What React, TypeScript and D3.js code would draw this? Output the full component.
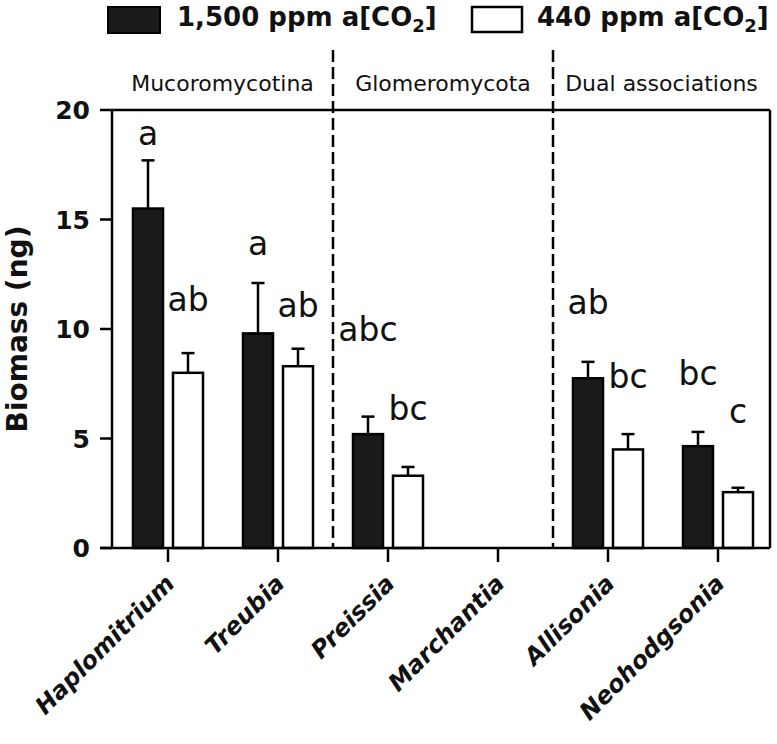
import React from "react";
import * as d3 from "d3";

const categories = ["Haplomitrium", "Treubia", "Preissia", "Marchantia", "Allisonia", "Neohodgsonia"];
const seriesKeys = ["high", "low"];
const seriesLabels = ["1,500 ppm a[CO", "440 ppm a[CO"];
const highValues = [15.5, 9.8, 5.2, null, 7.75, 4.65];
const highErrTop = [17.7, 12.1, 6.0, null, 8.5, 5.3];
const lowValues = [8.0, 8.3, 3.3, null, 4.5, 2.55];
const lowErrTop = [8.9, 9.1, 3.7, null, 5.2, 2.75];
const highLetters = ["a", "a", "abc", "", "ab", "bc"];
const lowLetters = ["ab", "ab", "bc", "", "bc", "c"];
const highLetterY = [18.4, 13.4, 9.45, null, 10.7, 7.45];
const lowLetterY = [10.8, 10.55, 5.85, null, 7.3, 5.7];
const groups = [
  { name: "Mucoromycotina", from: 0, to: 2 },
  { name: "Glomeromycota", from: 2, to: 4 },
  { name: "Dual associations", from: 4, to: 6 },
];
const yTicks = [0, 5, 10, 15, 20];

const W = 777;
const H = 744;
const left = 112;
const right = 770;
const top = 110;
const bottom = 548;
const FONT = "'DejaVu Sans', sans-serif";

export default function App() {
  const y = d3.scaleLinear().domain([0, 20]).range([bottom, top]);
  const x0 = d3.scaleBand<string>().domain(categories).range([113, 773]);
  const x1 = d3.scaleBand<string>().domain(seriesKeys).range([20, 90]).paddingInner(0.25);
  const step = x0.step();
  const bw = x1.bandwidth();

  const series = [
    { key: "high", values: highValues, err: highErrTop, letters: highLetters, ly: highLetterY, fill: "#1a1a1a" },
    { key: "low", values: lowValues, err: lowErrTop, letters: lowLetters, ly: lowLetterY, fill: "#ffffff" },
  ];

  const boundaryX = (i: number) => {
    if (i >= categories.length) return right;
    return (x0(categories[i]) as number);
  };

  return (
    <svg width={W} height={H} style={{ position: "absolute", left: 0, top: 0, background: "#fff" }} fontFamily={FONT}>
      <rect x={0} y={0} width={W} height={H} fill="#fff" />
      {/* legend */}
      <rect x={108} y={7} width={52} height={26} fill="#1a1a1a" stroke="#000" strokeWidth={2} />
      <text x={177} y={26} fontSize={26} fontWeight="bold" fill="#111">
        {seriesLabels[0]}
        <tspan fontSize={18} dy={6}>2</tspan>
        <tspan dy={-6}>]</tspan>
      </text>
      <rect x={472} y={7} width={50} height={25} fill="#fff" stroke="#000" strokeWidth={2.5} />
      <text x={537} y={26} fontSize={26} fontWeight="bold" fill="#111">
        {seriesLabels[1]}
        <tspan fontSize={18} dy={6}>2</tspan>
        <tspan dy={-6}>]</tspan>
      </text>

      {/* group labels & dividers */}
      {groups.map((g, i) => {
        const a = i === 0 ? left : boundaryX(g.from);
        const b = boundaryX(g.to);
        return (
          <text key={g.name} x={(a + b) / 2} y={91} fontSize={22} textAnchor="middle" fill="#111">
            {g.name}
          </text>
        );
      })}
      {groups.slice(1).map((g) => (
        <line key={"d" + g.name} x1={boundaryX(g.from)} x2={boundaryX(g.from)} y1={50} y2={bottom}
          stroke="#000" strokeWidth={2.5} strokeDasharray="12,5" />
      ))}

      {/* bars */}
      {categories.map((c, i) => (
        <g key={c} transform={`translate(${x0(c)},0)`}>
          {series.map((s) => {
            const v = s.values[i];
            if (v == null) return null;
            const bx = x1(s.key) as number;
            const cx = bx + bw / 2;
            const e = s.err[i] as number;
            return (
              <g key={s.key}>
                <line x1={cx} x2={cx} y1={y(v)} y2={y(e)} stroke="#000" strokeWidth={2.5} />
                <line x1={cx - 6.5} x2={cx + 6.5} y1={y(e)} y2={y(e)} stroke="#000" strokeWidth={2.5} />
                <rect x={bx} y={y(v)} width={bw} height={y(0) - y(v)} fill={s.fill} stroke="#000" strokeWidth={2.5} />
                <text x={cx} y={y(s.ly[i] as number)} fontSize={33} textAnchor="middle" fill="#111">
                  {s.letters[i]}
                </text>
              </g>
            );
          })}
        </g>
      ))}

      {/* frame & axes */}
      <line x1={left} x2={right} y1={top} y2={top} stroke="#000" strokeWidth={2.5} />
      <line x1={right} x2={right} y1={top} y2={bottom} stroke="#000" strokeWidth={2.5} />
      <line x1={left} x2={left} y1={top} y2={bottom} stroke="#000" strokeWidth={2.5} />
      <line x1={100} x2={right} y1={bottom} y2={bottom} stroke="#000" strokeWidth={2.5} />
      {yTicks.map((t) => (
        <g key={t}>
          <line x1={100} x2={left} y1={y(t)} y2={y(t)} stroke="#000" strokeWidth={2.5} />
          <text x={90} y={y(t)} dy="0.36em" fontSize={25} fontWeight="bold" textAnchor="end" fill="#111">
            {t}
          </text>
        </g>
      ))}
      {categories.map((c) => {
        const cx = (x0(c) as number) + step / 2;
        return (
          <g key={"t" + c}>
            <line x1={cx} x2={cx} y1={bottom} y2={bottom + 14} stroke="#000" strokeWidth={2.5} />
            <text transform={`translate(${cx + 8},${585}) rotate(-45)`} fontSize={24} fontWeight="bold"
              fontStyle="italic" textAnchor="end" fill="#111">
              {c}
            </text>
          </g>
        );
      })}
      <text transform={`translate(27,${(top + bottom) / 2}) rotate(-90)`} fontSize={28} fontWeight="bold"
        textAnchor="middle" fill="#111">
        Biomass (ng)
      </text>
    </svg>
  );
}
